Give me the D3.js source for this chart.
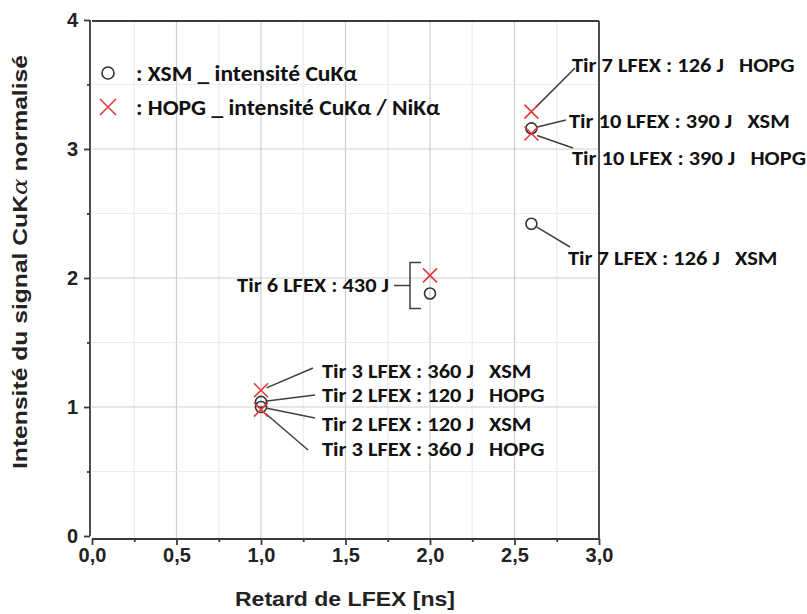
<!DOCTYPE html>
<html><head><meta charset="utf-8">
<script src="https://cdn.jsdelivr.net/npm/d3@7"></script>
<style>
body{margin:0;background:#fff;}
text{white-space:pre;}
</style></head>
<body><svg id="c" width="807" height="614"></svg>
<script>
// ---- data ----
const xsmX = [1.0, 1.0, 2.0, 2.6, 2.6];
const xsmY = [1.04, 1.00, 1.88, 2.42, 3.16];
const hopgX = [1.0, 1.0, 2.0, 2.6, 2.6];
const hopgY = [1.13, 0.98, 2.02, 3.29, 3.12];
const xTicks = [0, 0.5, 1.0, 1.5, 2.0, 2.5, 3.0];
const xTickLabels = ["0,0","0,5","1,0","1,5","2,0","2,5","3,0"];
const yTicks = [0, 1, 2, 3, 4];
const legendLabels = [": XSM _ intensité CuKα", ": HOPG _ intensité CuKα / NiKα"];
// annotations: label text, series, point index
const annTexts = ["Tir 7 LFEX : 126 J   HOPG","Tir 10 LFEX : 390 J   XSM","Tir 10 LFEX : 390 J   HOPG","Tir 7 LFEX : 126 J   XSM",
  "Tir 3 LFEX : 360 J   XSM","Tir 2 LFEX : 120 J   HOPG","Tir 2 LFEX : 120 J   XSM","Tir 3 LFEX : 360 J   HOPG"];
const annSeries = ["hopg","xsm","hopg","xsm","hopg","xsm","xsm","hopg"];
const annIndex = [3,4,4,3,0,0,1,1];
const tir6Label = "Tir 6 LFEX : 430 J";

const svg = d3.select("#c");
const x = d3.scaleLinear().domain([0,3]).range([92,599]);
const y = d3.scaleLinear().domain([0,4]).range([536,20]);
const axisFont = "'Liberation Sans', Arial, sans-serif";
const annFont = "Carlito, Lato, 'Open Sans', sans-serif";

function stretch(sel, f){
  const n = sel.node(); const w = n.getComputedTextLength();
  sel.attr("textLength", w*f).attr("lengthAdjust","spacingAndGlyphs");
}

// grid
const g = svg.append("g");
d3.range(1,12).map(i=>i*0.25).forEach(v=>{
  const major = Math.abs(v*2-Math.round(v*2))<1e-9;
  g.append("line").attr("x1",x(v)).attr("x2",x(v)).attr("y1",21).attr("y2",538)
   .attr("stroke", major?"#cfcfcf":"#ececec").attr("stroke-width",1.2);
});
d3.range(1,8).map(i=>i*0.5).forEach(v=>{
  const major = Math.abs(v-Math.round(v))<1e-9;
  g.append("line").attr("x1",92).attr("x2",599).attr("y1",y(v)).attr("y2",y(v))
   .attr("stroke", major?"#cfcfcf":"#ececec").attr("stroke-width",1.2);
});

// frame
const ax = "#3a3a3a";
svg.append("line").attr("x1",92).attr("x2",599).attr("y1",21).attr("y2",21).attr("stroke",ax).attr("stroke-width",1.8);
svg.append("line").attr("x1",599).attr("x2",599).attr("y1",21).attr("y2",539).attr("stroke",ax).attr("stroke-width",1.8);

// axes
const xa = svg.append("g").attr("transform","translate(0,539)")
  .call(d3.axisBottom(x).tickValues(xTicks).tickSize(6).tickPadding(3).tickFormat((d,i)=>xTickLabels[i]));
const xm = svg.append("g").attr("transform","translate(0,539)")
  .call(d3.axisBottom(x).tickValues([0.25,0.75,1.25,1.75,2.25,2.75]).tickSize(3).tickFormat(""));
const ya = svg.append("g").attr("transform","translate(90,0)")
  .call(d3.axisLeft(y).tickValues(yTicks).tickSize(6).tickPadding(6).tickFormat(d3.format("d")));
const ym = svg.append("g").attr("transform","translate(90,0)")
  .call(d3.axisLeft(y).tickValues([0.5,1.5,2.5,3.5]).tickSize(3).tickFormat(""));
[xa,xm,ya,ym].forEach(a=>{
  a.select(".domain").remove();
  a.selectAll("line").attr("stroke",ax).attr("stroke-width",1.8);
  a.selectAll("text").attr("font-family",axisFont).attr("font-weight","bold").attr("font-size",20).attr("fill","#222");
});
svg.append("line").attr("x1",92).attr("x2",599).attr("y1",539).attr("y2",539).attr("stroke",ax).attr("stroke-width",1.8);
svg.append("line").attr("x1",90).attr("x2",90).attr("y1",20).attr("y2",536).attr("stroke",ax).attr("stroke-width",1.8);

// axis titles
svg.append("text").attr("x",345).attr("y",598).attr("text-anchor","middle").attr("dominant-baseline","central")
  .attr("font-family",axisFont).attr("font-weight","bold").attr("font-size",21).attr("fill","#222")
  .attr("textLength",220).attr("lengthAdjust","spacingAndGlyphs")
  .text("Retard de LFEX [ns]");
const yt = svg.append("text").attr("transform","translate(20,262) rotate(-90)").attr("text-anchor","middle")
  .attr("dominant-baseline","central").attr("font-family",axisFont).attr("font-weight","bold").attr("font-size",20).attr("fill","#222")
  .attr("textLength",414).attr("lengthAdjust","spacingAndGlyphs");
yt.append("tspan").text("Intensité du signal CuK");
yt.append("tspan").attr("font-style","italic").attr("font-family","'DejaVu Serif', serif").attr("font-weight","normal").text("α");
yt.append("tspan").text(" normalisé");

// marker helpers
const red = "#e5393a", dark = "#333";
function cross(sel, cx, cy, s){
  sel.append("path").attr("d",`M${cx-s},${cy-s}L${cx+s},${cy+s}M${cx-s},${cy+s}L${cx+s},${cy-s}`)
   .attr("stroke",red).attr("stroke-width",1.6).attr("fill","none");
}

// annotations (leaders)
const annG = svg.append("g");
const pos = {xsm:(i)=>[x(xsmX[i]),y(xsmY[i])], hopg:(i)=>[x(hopgX[i]),y(hopgY[i])]};
const annTx = [572,569,572,568, 322,322,322,322];
const annTy = [65,121,158,258, 371,395,424,449];
const annLx = [575,566,573,570, 313,315,315,308];
const annLy = [68,120,148,247, 368,395,418,450];
annTexts.forEach((t,i)=>{
  const [px,py] = pos[annSeries[i]](annIndex[i]);
  const dx = annLx[i]-px, dy = annLy[i]-py, L = Math.hypot(dx,dy);
  annG.append("line").attr("x1",annLx[i]).attr("y1",annLy[i])
    .attr("x2",px+dx/L*6).attr("y2",py+dy/L*6).attr("stroke","#404040").attr("stroke-width",1.5);
  const tt = annG.append("text").attr("x",annTx[i]).attr("y",annTy[i]).attr("dominant-baseline","central")
    .attr("font-family",annFont).attr("font-weight","bold").attr("font-size",20).attr("fill","#111").text(t);
  stretch(tt, 1.12);
});
// Tir 6 bracket
{
  const bx = x(2.0)-20, top = y(hopgY[2])-13, bot = y(xsmY[2])+15, mid = (top+bot)/2;
  annG.append("path").attr("d",`M${bx+11},${top}H${bx}V${bot}H${bx+11}M${bx-16},${mid}H${bx}`)
    .attr("stroke","#404040").attr("stroke-width",1.5).attr("fill","none");
  const t6 = annG.append("text").attr("x",bx-21).attr("y",mid).attr("text-anchor","end").attr("dominant-baseline","central")
    .attr("font-family",annFont).attr("font-weight","bold").attr("font-size",20).attr("fill","#111").text(tir6Label);
  stretch(t6, 1.12);
}

// points
const pts = svg.append("g");
xsmX.forEach((v,i)=>{
  pts.append("circle").attr("cx",x(v)).attr("cy",y(xsmY[i])).attr("r",5.5)
    .attr("fill","none").attr("stroke",dark).attr("stroke-width",1.6);
});
hopgX.forEach((v,i)=>cross(pts, x(v), y(hopgY[i]), 7));

// legend
svg.append("circle").attr("cx",108).attr("cy",73).attr("r",6).attr("fill","none").attr("stroke",dark).attr("stroke-width",1.6);
cross(svg,108,107,8);
legendLabels.forEach((t,i)=>{
  const lt = svg.append("text").attr("x",136).attr("y",i?107:73).attr("dominant-baseline","central")
    .attr("font-family",annFont).attr("font-weight","bold").attr("font-size",22).attr("fill","#111").text(t);
  stretch(lt, 1.07);
});
</script></body></html>
